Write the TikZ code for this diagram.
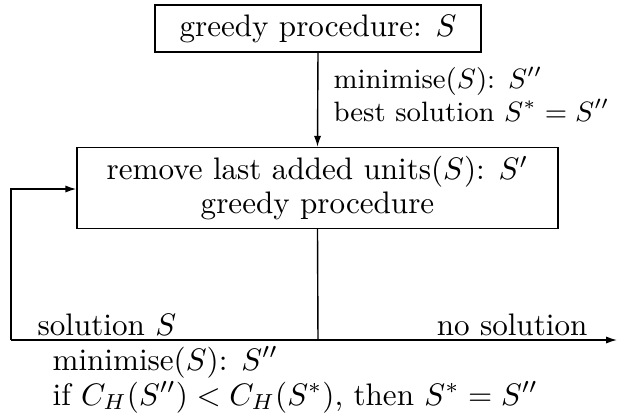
\documentclass[tikz,border=0pt]{standalone}
\usetikzlibrary{arrows.meta}
\begin{document}
\begin{tikzpicture}[x=0.3215pt,y=-0.3215pt,
  box/.style={draw,line width=0.5pt,inner sep=0pt,font=\fontsize{10}{11}\selectfont,align=center},
  lbl/.style={inner sep=0pt,align=left},
  conn/.style={line width=0.45pt},
  arr/.style={conn,-{Latex[length=3.5pt,width=2.3pt]}}]
\useasboundingbox (0,0) rectangle (618,415);
\node[box,minimum width=104.8pt,minimum height=15.1pt] (top) at (318,28.5) {greedy procedure: $S$};
\node[box,minimum width=154.6pt,minimum height=26pt] (mid) at (317.5,188) {remove last added units($S$): $S'$\\greedy procedure};
\node[lbl,anchor=north west,font=\fontsize{9}{10.5}\selectfont] (l1) at (333,66) {minimise($S$): $S''$\\best solution $S^*=S''$};
\coordinate (j) at (318,340);
\coordinate (bl) at (11,340);
\coordinate (br) at (617,340);
\coordinate (tl) at (11,189);
\draw[arr] (top.south) -- (mid.north);
\draw[conn] (mid.south) -- (j);
\draw[arr] (bl) -- (br);
\draw[arr] (bl) -- (tl) -- (mid.west |- tl);
\node[lbl,anchor=base west] (sol) at (37,335) {solution $S$};
\node[lbl,anchor=base east] (nosol) at (588,335) {no solution};
\node[lbl,anchor=base west] (l2) at (52,370) {minimise($S$): $S''$};
\node[lbl,anchor=base west] (l3) at (52,405) {if $C_H(S'')<C_H(S^*)$, then $S^*=S''$};
\end{tikzpicture}
\end{document}
